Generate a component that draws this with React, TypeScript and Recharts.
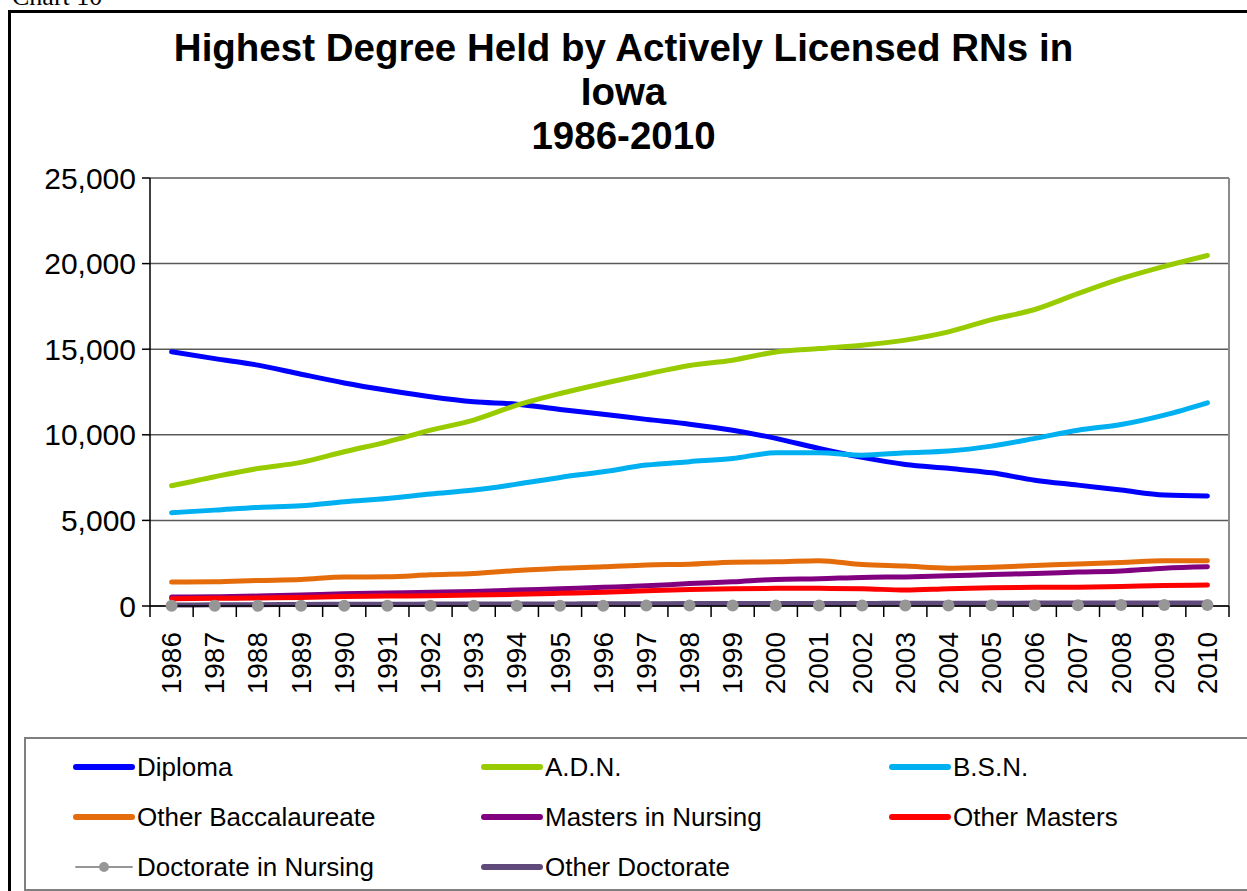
import { LineChart, Line, XAxis, YAxis, CartesianGrid, Legend } from 'recharts'

const years = [
  '1986', '1987', '1988', '1989', '1990', '1991', '1992', '1993', '1994',
  '1995', '1996', '1997', '1998', '1999', '2000', '2001', '2002', '2003',
  '2004', '2005', '2006', '2007', '2008', '2009', '2010',
]

const diploma = [
  14850, 14450, 14070, 13540, 13030, 12600, 12220, 11930, 11790, 11480, 11200, 10900, 10620,
  10270, 9790, 9200, 8680, 8270, 8040, 7780, 7350, 7060, 6770, 6480, 6420,
]
const adn = [
  7020, 7550, 8030, 8390, 9010, 9590, 10270, 10860, 11730, 12410, 13000, 13540, 14050,
  14360, 14840, 15040, 15230, 15530, 16010, 16730, 17320, 18250, 19120, 19840, 20470,
]
const bsn = [
  5450, 5600, 5760, 5860, 6090, 6280, 6540, 6770, 7120, 7510, 7840, 8230, 8430,
  8620, 8950, 8950, 8810, 8950, 9050, 9340, 9790, 10270, 10600, 11150, 11870,
]
const otherBacc = [
  1395, 1415, 1490, 1550, 1690, 1705, 1820, 1900, 2070, 2210, 2290, 2400, 2440,
  2560, 2580, 2650, 2420, 2330, 2210, 2270, 2360, 2460, 2540, 2640, 2650,
]
const mastersNursing = [
  520, 540, 580, 640, 720, 760, 800, 850, 930, 1010, 1090, 1180, 1310,
  1410, 1550, 1590, 1670, 1700, 1760, 1840, 1900, 1980, 2050, 2210, 2290,
]
const otherMasters = [
  430, 450, 470, 500, 560, 580, 600, 640, 680, 740, 800, 890, 960,
  1010, 1030, 1030, 1010, 930, 1010, 1070, 1090, 1100, 1140, 1200, 1220,
]
const doctorateNursing = [
  10, 10, 10, 10, 15, 15, 15, 20, 20, 20, 20, 25, 25,
  25, 30, 30, 30, 35, 35, 40, 45, 50, 55, 60, 65,
]
const otherDoctorate = [
  60, 70, 80, 90, 100, 100, 110, 110, 120, 120, 130, 130, 140,
  140, 150, 150, 150, 160, 160, 160, 170, 170, 170, 180, 180,
]

const yTicks = [0, 5000, 10000, 15000, 20000, 25000]

const series = [
  { key: 'diploma', name: 'Diploma', values: diploma, color: '#0000FF' },
  { key: 'adn', name: 'A.D.N.', values: adn, color: '#99CC00' },
  { key: 'bsn', name: 'B.S.N.', values: bsn, color: '#00B0F0' },
  { key: 'otherBacc', name: 'Other Baccalaureate', values: otherBacc, color: '#E46C0A' },
  { key: 'mastersNursing', name: 'Masters in Nursing', values: mastersNursing, color: '#800080' },
  { key: 'otherMasters', name: 'Other Masters', values: otherMasters, color: '#FF0000' },
  { key: 'doctorateNursing', name: 'Doctorate in Nursing', values: doctorateNursing, color: '#969696' },
  { key: 'otherDoctorate', name: 'Other Doctorate', values: otherDoctorate, color: '#604A7B' },
]

const data = years.map((year, i) => {
  const row: Record<string, string | number> = { year }
  series.forEach((s) => {
    row[s.key] = s.values[i]
  })
  return row
})

const seriesOrder = (key: string) => series.findIndex((s) => s.key === key)

const FONT = '"Liberation Sans", Arial, sans-serif'
const PLOT_LEFT = 150
const PLOT_RIGHT = 1229
const PLOT_TOP = 178
const PLOT_BOTTOM = 606
const BAND = (PLOT_RIGHT - PLOT_LEFT) / years.length

function YearTick(props: any) {
  const { x, y, payload, index } = props
  const half = BAND / 2
  const ty = y + 26
  return (
    <g>
      <line x1={x - half} x2={x - half} y1={y} y2={y + 11} stroke="#000" strokeWidth={1.5} />
      {index === years.length - 1 && (
        <line x1={x + half} x2={x + half} y1={y} y2={y + 11} stroke="#000" strokeWidth={1.5} />
      )}
      <text
        x={x}
        y={ty}
        transform={`rotate(-90, ${x}, ${ty})`}
        textAnchor="end"
        dominantBaseline="central"
        fontSize={28}
        fontFamily={FONT}
        fill="#000"
      >
        {payload.value}
      </text>
    </g>
  )
}

function LegendBox(props: any) {
  const items = [...(props.payload || [])].sort(
    (a: any, b: any) => seriesOrder(a.dataKey) - seriesOrder(b.dataKey),
  )
  return (
    <div
      style={{
        display: 'grid',
        gridTemplateColumns: '408px 408px 408px',
        gridAutoRows: '50px',
        paddingLeft: 46,
        paddingTop: 3,
        fontFamily: FONT,
        fontSize: 26,
        color: '#000',
      }}
    >
      {items.map((entry: any) => {
        const dotted = entry.dataKey === 'doctorateNursing'
        return (
          <div key={entry.value} style={{ display: 'flex', alignItems: 'center' }}>
            <svg width={64} height={16} style={{ marginRight: 1 }}>
              <line
                x1={4}
                x2={60}
                y1={8}
                y2={8}
                stroke={entry.color}
                strokeWidth={dotted ? 2 : 6}
                strokeLinecap="round"
              />
              {dotted && <circle cx={32} cy={8} r={5} fill={entry.color} />}
            </svg>
            <span>{entry.value}</span>
          </div>
        )
      })}
    </div>
  )
}

export default function App() {
  return (
    <div
      style={{
        position: 'fixed',
        left: 0,
        top: 0,
        width: 1247,
        height: 891,
        overflow: 'hidden',
        background: '#fff',
      }}
    >
      <div
        style={{
          position: 'absolute',
          left: 12,
          top: -16,
          fontFamily: '"Liberation Serif", "Times New Roman", serif',
          fontSize: 26,
          lineHeight: '26px',
        }}
      >
        Chart 10
      </div>
      <div
        style={{
          position: 'absolute',
          left: 8,
          top: 10,
          width: 1260,
          height: 900,
          border: '3px solid #000',
        }}
      />
      <div
        style={{
          position: 'absolute',
          left: 0,
          width: 1247,
          top: 26,
          textAlign: 'center',
          fontFamily: FONT,
          fontWeight: 'bold',
          fontSize: 38.5,
          lineHeight: '44px',
          color: '#000',
        }}
      >
        <div>Highest Degree Held by Actively Licensed RNs in</div>
        <div>Iowa</div>
        <div>1986-2010</div>
      </div>
      <div style={{ position: 'absolute', left: 0, top: 0 }}>
        <LineChart
          width={1247}
          height={891}
          data={data}
          margin={{ top: PLOT_TOP, left: 10, right: 1247 - PLOT_RIGHT, bottom: 0 }}
        >
          <CartesianGrid horizontal vertical={false} stroke="#595959" strokeWidth={1.5} />
          <CartesianGrid
            horizontal={false}
            vertical
            stroke="#8c8c8c"
            strokeWidth={2}
            verticalCoordinatesGenerator={({ offset }: any) => [offset.left + offset.width]}
          />
          <XAxis
            dataKey="year"
            height={891 - PLOT_BOTTOM}
            interval={0}
            padding={{ left: BAND / 2, right: BAND / 2 }}
            tickLine={false}
            tickSize={0}
            tickMargin={0}
            axisLine={{ stroke: '#000', strokeWidth: 1.5 }}
            tick={<YearTick />}
          />
          <YAxis
            width={PLOT_LEFT - 10}
            domain={[0, 25000]}
            ticks={yTicks}
            interval={0}
            tickSize={8}
            tickMargin={6}
            tickLine={{ stroke: '#000', strokeWidth: 1.5 }}
            axisLine={{ stroke: '#000', strokeWidth: 1.5 }}
            tickFormatter={(v: number) => v.toLocaleString('en-US')}
            tick={{ fontSize: 30, fontFamily: FONT, fill: '#000' }}
          />
          <Legend
            layout="horizontal"
            verticalAlign="middle"
            align="center"
            itemSorter={(item: any) => seriesOrder(item.dataKey)}
            content={<LegendBox />}
            wrapperStyle={{
              left: 24,
              top: 737,
              width: 1240,
              height: 154,
              border: '2px solid #7f7f7f',
              boxSizing: 'border-box',
              background: '#fff',
            }}
          />
          {series.map((s) =>
            s.key === 'doctorateNursing' ? (
              <Line
                key={s.key}
                dataKey={s.key}
                name={s.name}
                stroke={s.color}
                strokeWidth={2}
                type="monotone"
                dot={{ r: 6, fill: s.color, stroke: s.color, strokeWidth: 0 }}
                isAnimationActive={false}
              />
            ) : (
              <Line
                key={s.key}
                dataKey={s.key}
                name={s.name}
                stroke={s.color}
                strokeWidth={5}
                strokeLinecap="round"
                type="monotone"
                dot={false}
                isAnimationActive={false}
              />
            ),
          )}
        </LineChart>
      </div>
    </div>
  )
}
